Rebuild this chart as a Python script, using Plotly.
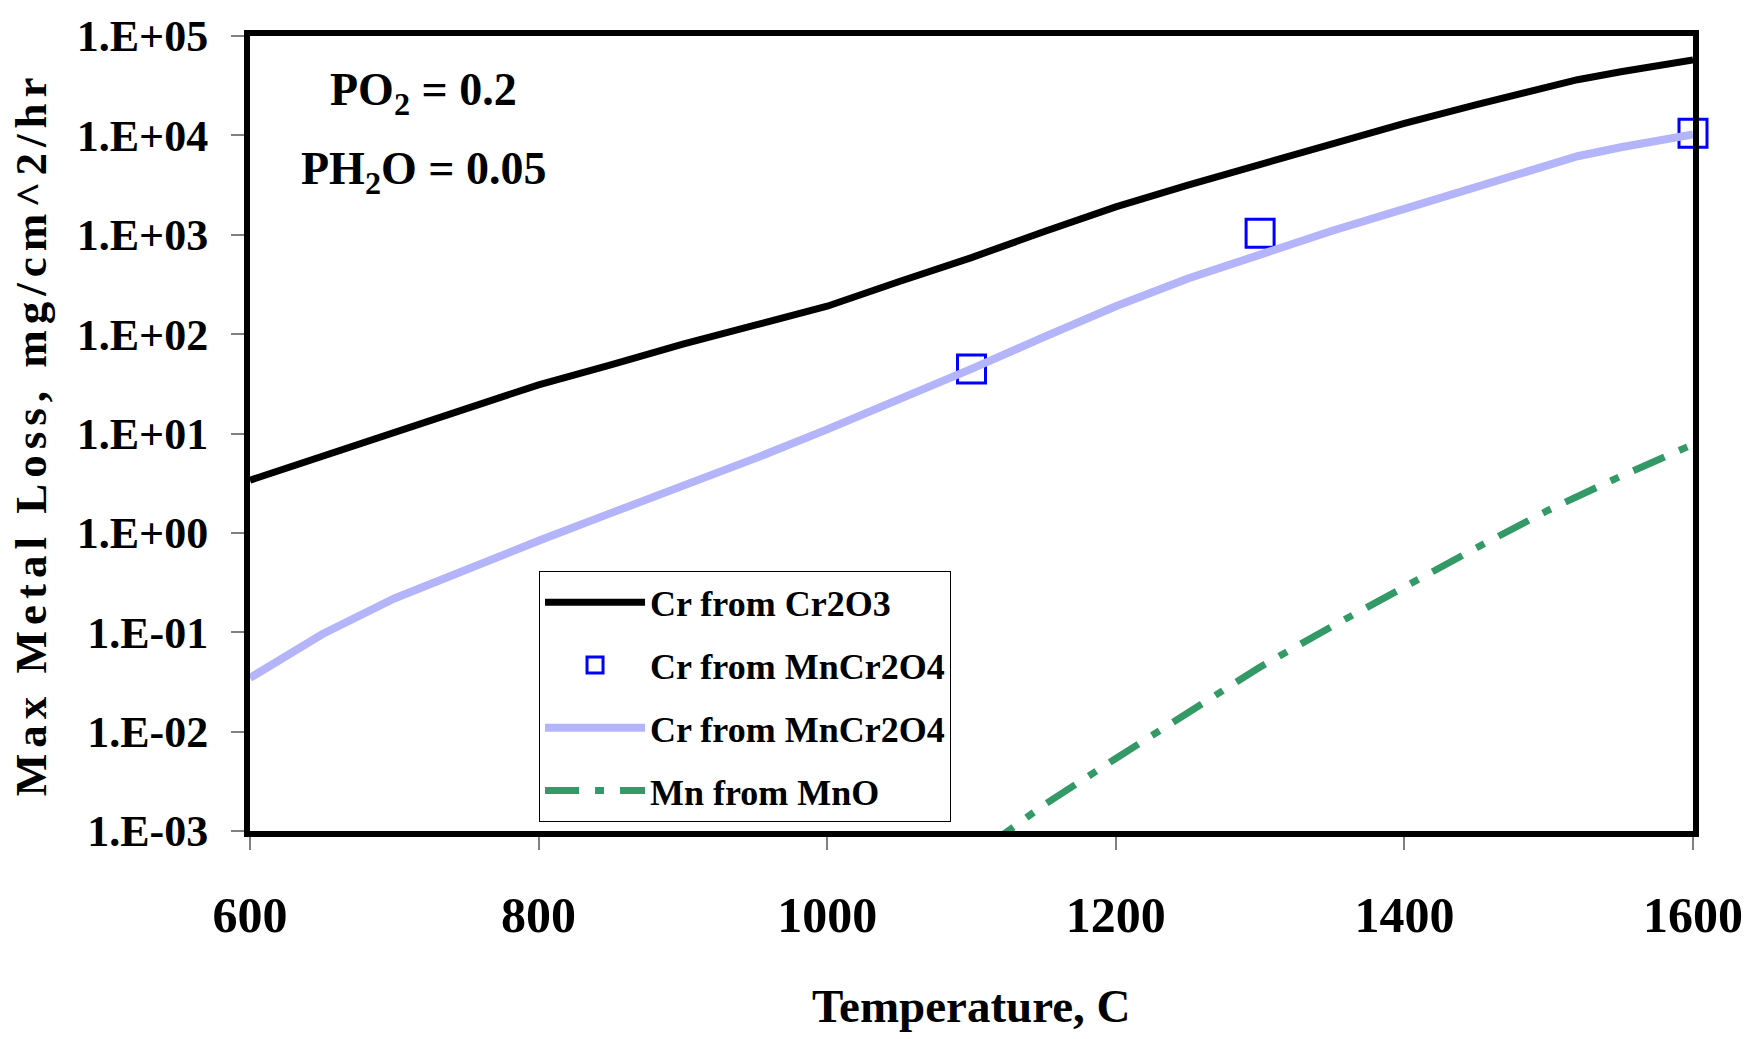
import plotly.graph_objects as go

# ---------------- data ----------------
temp = [600, 650, 700, 750, 800, 850, 900, 950, 1000, 1050, 1100, 1150,
        1200, 1250, 1300, 1350, 1400, 1450, 1500, 1520, 1550, 1600]
cr_from_cr2o3 = [3.39, 5.89, 10.0, 17.8, 30.9, 49.0, 79.4, 123, 191, 339, 589, 1072,
                 1905, 3162, 5129, 8318, 13183, 20417, 31623, 36308, 43652, 57544]
cr_from_mncr2o4_line = [0.0347, 0.0955, 0.219, 0.437, 0.832, 1.58, 2.95, 5.62, 11.0, 21.9, 44.7, 93.3,
                        191, 363, 646, 1096, 1820, 3020, 5129, 6166, 7586, 10233]
sq_temp = [1100, 1300, 1600]
cr_from_mncr2o4_pts = [44.5, 1035, 10500]
mn_temp = [1110, 1125, 1150, 1200, 1250, 1300, 1350, 1400, 1450, 1500, 1550, 1600]
mn_from_mno = [6.9e-4, 1.0e-3, 1.82e-3, 5.37e-3, 0.0158, 0.0447, 0.115, 0.288, 0.708, 1.70, 3.72, 7.76]

y_tickvals = [1e-3, 1e-2, 1e-1, 1e0, 1e1, 1e2, 1e3, 1e4, 1e5]
y_ticktext = ["1.E-03", "1.E-02", "1.E-01", "1.E+00", "1.E+01", "1.E+02", "1.E+03", "1.E+04", "1.E+05"]
x_tickvals = [600, 800, 1000, 1200, 1400, 1600]

FONT = "Liberation Serif, Times New Roman, serif"

fig = go.Figure()
fig.add_trace(go.Scatter(x=temp, y=cr_from_cr2o3, mode="lines", name="Cr from Cr2O3",
                         line=dict(color="black", width=7), legendgroup="a"))
fig.add_trace(go.Scatter(x=sq_temp, y=cr_from_mncr2o4_pts, mode="markers", name="Cr from MnCr2O4",
                         marker=dict(symbol="square-open", size=28, color="#0000FF",
                                     line=dict(width=3, color="#0000FF")),
                         cliponaxis=False, legendgroup="b"))
fig.add_trace(go.Scatter(x=temp, y=cr_from_mncr2o4_line, mode="lines", name="Cr from MnCr2O4",
                         line=dict(color="#B4B4FA", width=8), legendgroup="c"))
fig.add_trace(go.Scatter(x=mn_temp, y=mn_from_mno, mode="lines", name="Mn from MnO",
                         line=dict(color="#339966", width=7, dash="34px,16px,9px,16px"),
                         legendgroup="d"))

fig.update_layout(
    width=1755, height=1039,
    margin=dict(l=250, r=62, t=29, b=208),
    paper_bgcolor="white", plot_bgcolor="white",
    font=dict(family=FONT, color="black", weight="bold"),
    showlegend=True,
    legend=dict(x=0.2003, y=0.3267, xanchor="left", yanchor="top",
                bgcolor="white", bordercolor="black", borderwidth=1,
                font=dict(family=FONT, size=36, color="black", weight="bold"),
                itemwidth=100, tracegroupgap=13, traceorder="grouped"),
    xaxis=dict(range=[600, 1600], tickvals=x_tickvals, showgrid=False, zeroline=False,
               showline=True, linecolor="black", linewidth=6, mirror=True,
               ticks="outside", ticklen=13, tickwidth=1.5, tickcolor="#808080",
               tickfont=dict(family=FONT, size=50, color="black", weight="bold"),
               ticklabelstandoff=22),
    yaxis=dict(type="log", range=[-3, 5], tickvals=y_tickvals, ticktext=y_ticktext,
               showgrid=False, zeroline=False,
               showline=True, linecolor="black", linewidth=6, mirror=True,
               ticks="outside", ticklen=13, tickwidth=1.5, tickcolor="#808080",
               tickfont=dict(family=FONT, size=44, color="black", weight="bold"),
               ticklabelstandoff=14),
    annotations=[
        dict(text="PO<sub>2</sub> = 0.2", x=720, y=4.43, xref="x", yref="y",
             showarrow=False, font=dict(family=FONT, size=46, color="black", weight="bold")),
        dict(text="PH<sub>2</sub>O = 0.05", x=720, y=3.63, xref="x", yref="y",
             showarrow=False, font=dict(family=FONT, size=46, color="black", weight="bold")),
        dict(text="Temperature, C", x=0.5, y=-0.2195, xref="paper", yref="paper",
             xanchor="center", yanchor="middle", showarrow=False,
             font=dict(family=FONT, size=47, color="black", weight="bold")),
        dict(text="Max Metal Loss, mg/cm^2/hr", x=-0.1520, y=0.5, xref="paper", yref="paper",
             xanchor="center", yanchor="middle", textangle=-90, showarrow=False,
             font=dict(family=FONT, size=45, color="black", weight="bold")),
    ],
)

post = """
document.querySelectorAll('text.annotation-text').forEach(function(t){
  if (t.textContent.indexOf('Max Metal') === 0) { t.setAttribute('letter-spacing', '6px'); }
});
"""
fig.write_html("out.html", post_script=post)
